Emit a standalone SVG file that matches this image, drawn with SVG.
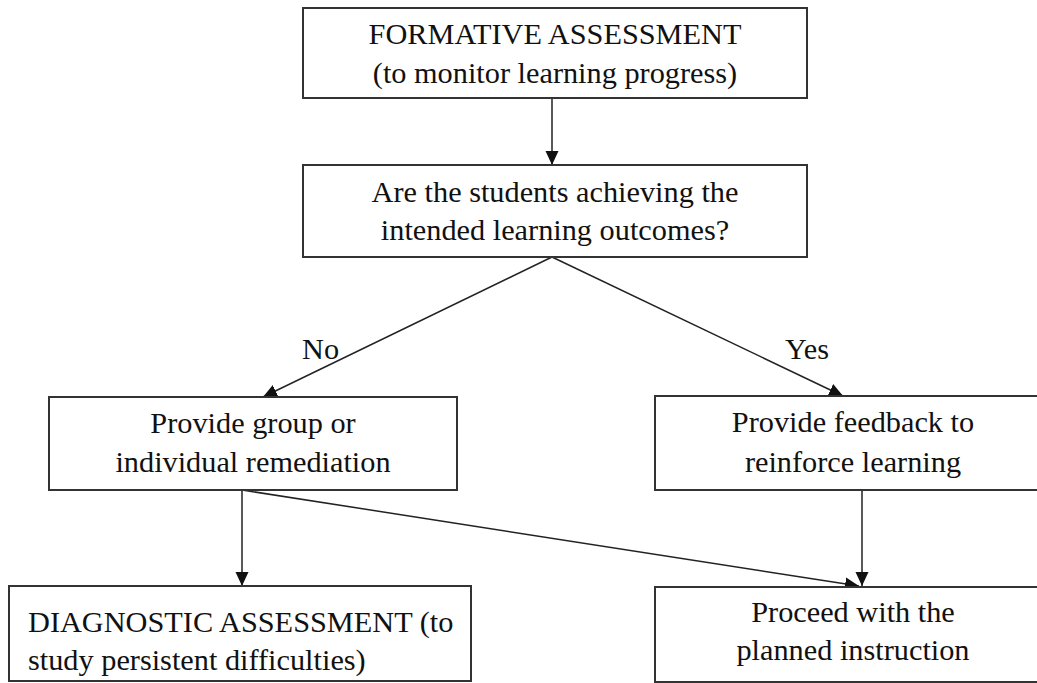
<svg xmlns="http://www.w3.org/2000/svg" width="1037" height="683" viewBox="0 0 1037 683">
<style>
.box{fill:#fff;stroke:#333;stroke-width:2}
.t{font-family:"Liberation Serif","Times New Roman",serif;font-size:30.3px;fill:#111}
.c{text-anchor:middle}
.ln{stroke:#222;stroke-width:1.5;fill:none;marker-end:url(#ah)}
</style>
<defs>
<marker id="ah" viewBox="0 0 14 14" refX="14" refY="7" markerWidth="14" markerHeight="14" markerUnits="userSpaceOnUse" orient="auto">
<path d="M0,0.5 L14,7 L0,13.5 Z" fill="#111"/>
</marker>
</defs>
<rect width="1037" height="683" fill="#fff"/>
<g id="connectors">
<line class="ln" x1="552" y1="98" x2="552" y2="165"/>
<line class="ln" x1="552" y1="257" x2="263" y2="397"/>
<line class="ln" x1="552" y1="257" x2="843" y2="396"/>
<line class="ln" x1="242" y1="490" x2="242" y2="586"/>
<line class="ln" x1="242" y1="490" x2="859" y2="586"/>
<line class="ln" x1="862" y1="490" x2="862" y2="586"/>
<text class="t" x="302" y="359">No</text>
<text class="t" x="785" y="359">Yes</text>
</g>
<g id="formative">
<rect class="box" x="303" y="8" width="504" height="90"/>
<text class="t c" x="555" y="44">FORMATIVE ASSESSMENT</text>
<text class="t c" x="555" y="83">(to monitor learning progress)</text>
</g>
<g id="question">
<rect class="box" x="303" y="165" width="504" height="92"/>
<text class="t c" x="555" y="202">Are the students achieving the</text>
<text class="t c" x="555" y="240">intended learning outcomes?</text>
</g>
<g id="remediation">
<rect class="box" x="49" y="397" width="408" height="93"/>
<text class="t c" x="253" y="433">Provide group or</text>
<text class="t c" x="253" y="472">individual remediation</text>
</g>
<g id="feedback">
<rect class="box" x="655" y="396" width="396" height="94"/>
<text class="t c" x="853" y="432">Provide feedback to</text>
<text class="t c" x="853" y="472">reinforce learning</text>
</g>
<g id="diagnostic">
<rect class="box" x="9" y="586" width="462" height="95"/>
<text class="t" x="28" y="632">DIAGNOSTIC ASSESSMENT (to</text>
<text class="t" x="28" y="670">study persistent difficulties)</text>
</g>
<g id="proceed">
<rect class="box" x="655" y="587" width="396" height="95"/>
<text class="t c" x="853" y="622">Proceed with the</text>
<text class="t c" x="853" y="660">planned instruction</text>
</g>
</svg>
